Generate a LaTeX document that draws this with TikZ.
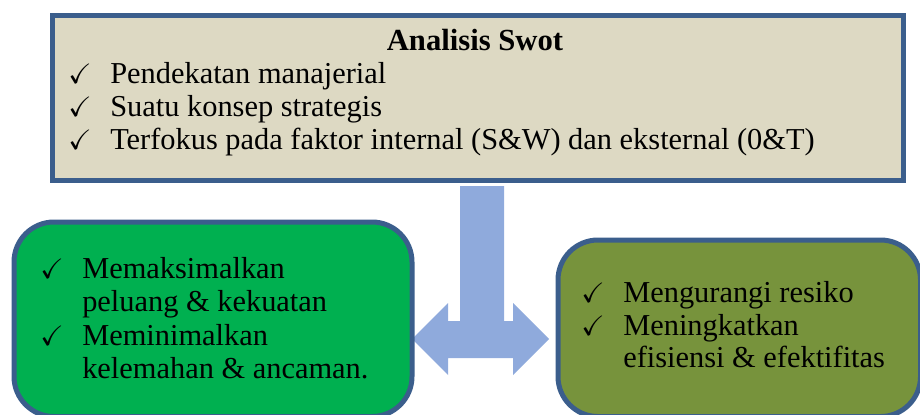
\documentclass[tikz,border=0pt]{standalone}
\usepackage{amssymb}
\usepackage{fontspec}
\setmainfont{Liberation Serif}
\definecolor{boxborder}{HTML}{3B5E8C}
\definecolor{beige}{HTML}{DDD9C3}
\definecolor{leftgreen}{HTML}{00B050}
\definecolor{olive}{HTML}{77933C}
\definecolor{arrowblue}{HTML}{8FAADC}
\newcommand\chk{{\fontsize{21}{21}\selectfont$\checkmark$}}
\begin{document}
\begin{tikzpicture}[x=0.75pt,y=-0.75pt,
  frame/.style={draw=boxborder,line width=3.75pt,anchor=north west,inner sep=0pt},
  txt/.style={anchor=base west,inner sep=0pt,font=\fontsize{22.8}{25}\selectfont},
  ttl/.style={anchor=base,inner sep=0pt,font=\fontsize{23}{25}\selectfont\bfseries}]
\useasboundingbox (0,0) rectangle (920,414);
\clip (0,0) rectangle (920,414);
% arrow
\fill[arrowblue] (460,186) -- (504,186) -- (504,321) -- (513,321) -- (513,303) -- (549,339)
  -- (513,375) -- (513,358) -- (448,358) -- (448,375) -- (412,339) -- (448,303)
  -- (448,321) -- (460,321) -- cycle;
% boxes
\node[frame,fill=beige,rectangle,minimum width=638.25pt,minimum height=123.75pt] (top) at (49.5,12.5) {};
\node[frame,fill=leftgreen,rounded corners=30pt,minimum width=298.5pt,minimum height=145.9pt] (left) at (11.5,219.5) {};
\node[frame,fill=olive,rounded corners=30pt,minimum width=271.9pt,minimum height=132.4pt] (right) at (555.5,237.5) {};
% top text
\node[ttl] (title) at (475,50) {Analisis Swot};
\node[txt] (t1) at (110,83) {\llap{\chk\hspace{14pt}}Pendekatan manajerial};
\node[txt] (t2) at (110,116) {\llap{\chk\hspace{14pt}}Suatu konsep strategis};
\node[txt] (t3) at (110,149) {\llap{\chk\hspace{14pt}}Terfokus pada faktor internal (S\&W) dan eksternal (0\&T)};
% left text
\node[txt] (l1) at (82,278) {\llap{\chk\hspace{14pt}}Memaksimalkan};
\node[txt] (l2) at (82,311) {peluang \& kekuatan};
\node[txt] (l3) at (82,345) {\llap{\chk\hspace{14pt}}Meminimalkan};
\node[txt] (l4) at (82,378) {kelemahan \& ancaman.};
% right text
\node[txt] (r1) at (623,302) {\llap{\chk\hspace{14pt}}Mengurangi resiko};
\node[txt] (r2) at (623,335) {\llap{\chk\hspace{14pt}}Meningkatkan};
\node[txt] (r3) at (623,367) {efisiensi \& efektifitas};
\end{tikzpicture}
\end{document}
